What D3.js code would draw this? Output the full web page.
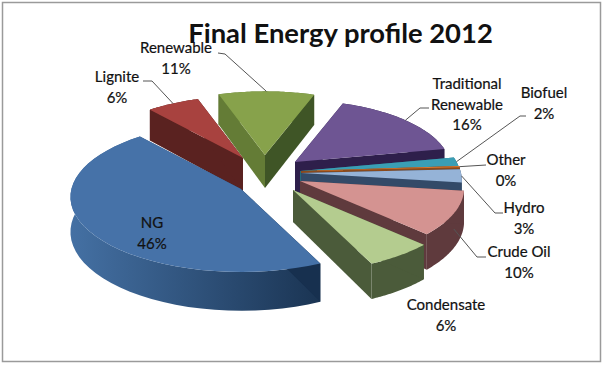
<!DOCTYPE html>
<html><head><meta charset="utf-8">
<script src="https://cdnjs.cloudflare.com/ajax/libs/d3/7.8.5/d3.min.js"></script>
<style>html,body{margin:0;padding:0;background:#fff}svg{display:block}text{font-family:Lato,"Open Sans",sans-serif;fill:#111}</style>
</head><body><div id="c"></div>
<script>
const categories=["NG","Lignite","Renewable","Traditional Renewable","Biofuel","Other","Hydro","Crude Oil","Condensate"];
const values=[45.8,6,10.6,16.4,2,0.3,3,10,5.9];
const percentLabels=["46%","6%","11%","16%","2%","0%","3%","10%","6%"];
const topColors=["#4672a8","#a8423f","#87a24b","#6e5593","#3a9eb5","#d9772f","#95b3d7","#d49391","#b4cc8f"];
const sideColors=["#3a618f","#5a2220","#5f7a35","#2e1f4b","#256a7a","#8a4a1c","#334a68","#5f3a3d","#4b5b3a"];
const innerStart=["#17304f","#5a2220","#647c36","#2e1f4b","#256a7a","#8a4a1c","#334a68","#5f3a3d","#4b5b3a"];
const innerEnd=["#2a4a70","#5a2220","#3f5526","#2e1f4b","#256a7a","#8a4a1c","#334a68","#5f3a3d","#4b5b3a"];
const offsetX=[-24,-22,0,30,35,36,36,35,28];
const offsetY=[16,-15,-18,-11,-2,-2,0,8,17];
const radiusScale=[1.06,0.97,1,0.97,1,1,1,1.02,1.05];
const depthScale=[1.05,1,1,1,1,1,1,1,0.97];
const drawOrder=[1,2,3,4,5,6,7,8,0];
const labelLines=[["NG"],["Lignite"],["Renewable"],["Traditional","Renewable"],["Biofuel"],["Other"],["Hydro"],["Crude Oil"],["Condensate"]];
const labelX=[152,117,176,467,544,506,524,519,446];
const labelY=[223,77,48,84,93,160,208,252,305];
const elbowA=[null,[143,81],[218,53],[429,108],[526,116],[486,165],[503,213],[486,257],null];
const elbowB=[null,[152,81],[225,54],[420,108],[520,116],[470,166],[495,213],[477,257],null];

const W=604,H=365,cx=265,cy=173,Rx=160,Ry=70,persp=0.1,depth=33,rad=Math.PI/180;
const svg=d3.select("#c").append("svg").attr("width",W).attr("height",H);
svg.append("rect").attr("x",2.5).attr("y",2.5).attr("width",598).attr("height",359).attr("fill","#fff").attr("stroke","#9a9a9a").attr("stroke-width",1.5);
const defs=svg.append("defs");
const g0=defs.append("linearGradient").attr("id","blueSide").attr("gradientUnits","userSpaceOnUse").attr("x1",72).attr("x2",317).attr("y1",0).attr("y2",0);
g0.append("stop").attr("offset",0).attr("stop-color","#4470a3");
g0.append("stop").attr("offset",1).attr("stop-color","#1b3554");

const arcs=d3.pie().sort(null).startAngle(155*rad).endAngle(515*rad)(values);
function P(i,a,r,z){
  const u=r*radiusScale[i]*Math.sin(a),v=r*radiusScale[i]*Math.cos(a),w=1/(1+persp*v);
  return [cx+offsetX[i]+Rx*u*w, cy+offsetY[i]-Ry*v*w+z*depth*depthScale[i]*w];
}
const line=d3.line().curve(d3.curveLinearClosed);
const samples=d=>d3.range(0,41).map(k=>d.startAngle+(d.endAngle-d.startAngle)*k/40);
const chart=svg.append("g");
drawOrder.forEach(i=>{
  const d=arcs[i],g=chart.append("g"),ss=samples(d);
  const band=ss.map(a=>P(i,a,1,0)).concat(ss.slice().reverse().map(a=>P(i,a,1,1)));
  g.append("path").attr("d",line(band)).attr("fill",i===0?"url(#blueSide)":sideColors[i]);
  const quad=(a,c)=>g.append("path").attr("d",line([P(i,a,0,0),P(i,a,1,0),P(i,a,1,1),P(i,a,0,1)])).attr("fill",c);
  quad(d.startAngle,innerStart[i]);
  quad(d.endAngle,innerEnd[i]);
  g.append("path").attr("d",line([P(i,0,0,0)].concat(ss.map(a=>P(i,a,1,0))))).attr("fill",topColors[i]);
});
const leaders=svg.append("g").attr("fill","none").attr("stroke","#555").attr("stroke-width",1);
arcs.forEach((d,i)=>{
  if(!elbowA[i])return;
  const mid=(d.startAngle+d.endAngle)/2;
  const zLevel=i===7?0.45:0;
  leaders.append("path").attr("d",d3.line()([elbowA[i],elbowB[i],P(i,mid,1,zLevel)]));
});
const labels=svg.append("g").attr("text-anchor","middle").attr("font-size",15).attr("stroke","#111").attr("stroke-width",0.2);
categories.forEach((c,i)=>{
  const t=labels.append("text");
  const lines=labelLines[i].concat([percentLabels[i]]);
  lines.forEach((s,k)=>t.append("tspan").attr("x",labelX[i]).attr("y",labelY[i]+5+k*20.5).text(s));
});
svg.append("text").attr("x",340.5).attr("y",42.5).attr("text-anchor","middle").attr("font-size",27.4).attr("font-weight",700).attr("fill","#000").text("Final Energy profile 2012");
</script></body></html>
